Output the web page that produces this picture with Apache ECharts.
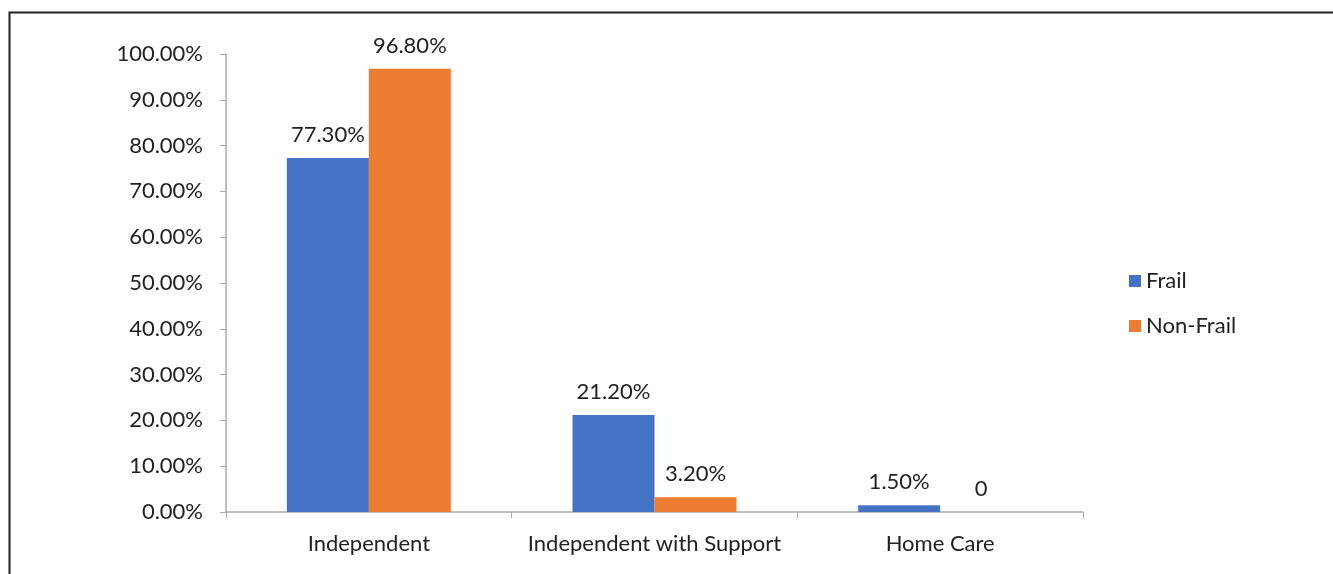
<!DOCTYPE html>
<html>
<head>
<meta charset="utf-8">
<script src="https://cdn.jsdelivr.net/npm/echarts@6/dist/echarts.min.js"></script>
<style>
  html, body { margin: 0; padding: 0; background: #fff; }
  #chart { width: 1333px; height: 574px; }
</style>
</head>
<body>
<div id="chart"></div>
<script>
// data
const categories = ['Independent', 'Independent with Support', 'Home Care'];
const frail = [77.3, 21.2, 1.5];
const nonFrail = [96.8, 3.2, 0];
const yTicks = { min: 0, max: 100, interval: 10 };

const FONT = 'Lato';
const FS = 22;
const myChart = echarts.init(document.getElementById('chart'));

const labelFmt = (p) => (p.value === 0 ? '0' : p.value.toFixed(2) + '%');

myChart.setOption({
  animation: false,
  textStyle: { fontFamily: FONT },
  graphic: [{
    type: 'rect',
    shape: { x: 9.5, y: 12.5, width: 1400, height: 700 },
    style: { fill: 'none', stroke: '#222', lineWidth: 2 },
    silent: true
  }],
  legend: {
    orient: 'vertical',
    left: 1124,
    top: 265,
    itemWidth: 12,
    itemHeight: 12,
    itemGap: 23,
    icon: 'rect',
    textStyle: { fontSize: FS, color: '#222', fontFamily: FONT },
    data: ['Frail', 'Non-Frail']
  },
  grid: { left: 226, right: 250, top: 54, bottom: 62, containLabel: false },
  xAxis: {
    type: 'category',
    data: categories,
    axisLine: { lineStyle: { color: '#aaa', width: 1.5 } },
    axisTick: { show: true, length: 6, alignWithLabel: false, lineStyle: { color: '#aaa' } },
    axisLabel: { interval: 0, fontSize: FS, color: '#222', margin: 21, fontFamily: FONT }
  },
  yAxis: {
    type: 'value',
    min: yTicks.min,
    max: yTicks.max,
    interval: yTicks.interval,
    splitLine: { show: false },
    axisLine: { show: true, lineStyle: { color: '#aaa', width: 1.5 } },
    axisTick: { show: true, length: 6, lineStyle: { color: '#aaa' } },
    axisLabel: {
      fontSize: FS, color: '#222', margin: 23, fontFamily: FONT,
      formatter: (v) => v.toFixed(2) + '%'
    }
  },
  series: [
    {
      name: 'Frail',
      type: 'bar',
      data: frail,
      barGap: '0%',
      barCategoryGap: '42.6%',
      itemStyle: { color: '#4472C4' },
      label: { show: true, position: 'top', distance: 12, fontSize: FS, color: '#222', fontFamily: FONT, formatter: labelFmt }
    },
    {
      name: 'Non-Frail',
      type: 'bar',
      data: nonFrail,
      barGap: '0%',
      barCategoryGap: '42.6%',
      itemStyle: { color: '#ED7D31' },
      label: { show: true, position: 'top', distance: 12, fontSize: FS, color: '#222', fontFamily: FONT, formatter: labelFmt }
    }
  ]
});

window.addEventListener('resize', () => {
  myChart.resize();
});
</script>
</body>
</html>
